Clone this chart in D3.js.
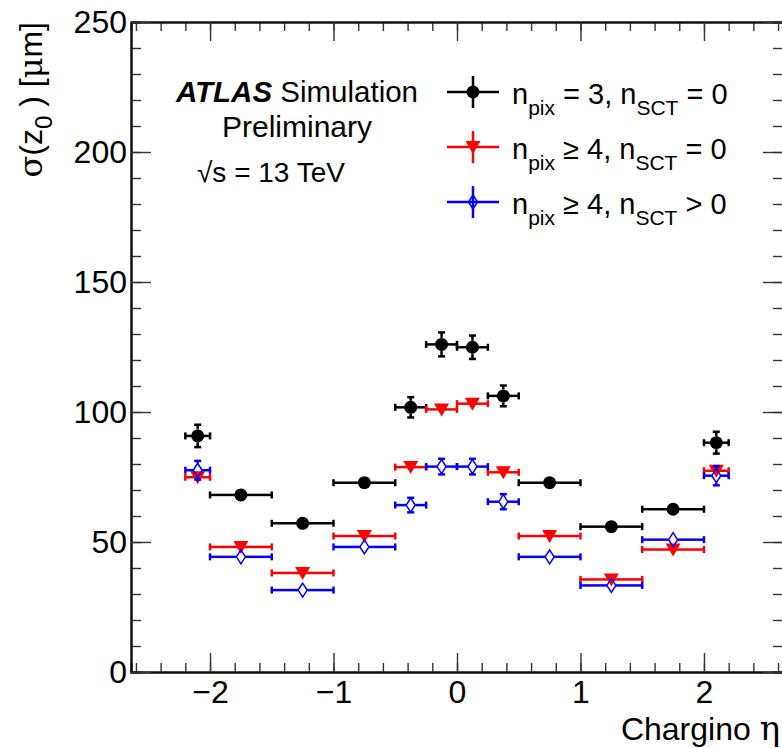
<!DOCTYPE html>
<html>
<head>
<meta charset="utf-8">
<script src="https://cdn.jsdelivr.net/npm/d3@7"></script>
<style>
  body { margin: 0; background: #fff; }
  svg { display: block; font-family: "Liberation Sans", Arial, Helvetica, sans-serif; }
  .greek { font-family: "DejaVu Serif", "Liberation Serif", serif; }
</style>
</head>
<body>
<div id="chart"></div>
<script>

// bins in chargino eta
var bin_lo = [-2.2, -2.0, -1.5, -1.0, -0.5, -0.25, 0.0, 0.25, 0.5, 1.0, 1.5, 2.0];
var bin_hi = [-2.0, -1.5, -1.0, -0.5, -0.25, 0.0, 0.25, 0.5, 1.0, 1.5, 2.0, 2.2];

// sigma(z0) in um
var pix3_sct0 = [90.8, 68.1, 57.2, 72.8, 101.8, 126.0, 124.9, 106.2, 72.8, 55.9, 62.6, 88.2];
var pix3_sct0_err = [4.3, 1.2, 1.0, 1.0, 3.9, 4.6, 4.5, 4.0, 1.0, 1.0, 1.2, 4.2];

var pix4_sct0 = [74.9, 48.1, 38.1, 52.3, 78.8, 101.0, 103.2, 76.8, 52.3, 35.6, 47.1, 77.4];
var pix4_sct0_err = [2.4, 1.0, 1.0, 1.0, 2.0, 2.5, 2.4, 2.2, 1.0, 1.0, 1.0, 2.4];

var pix4_sct1 = [77.6, 44.3, 31.5, 48.1, 64.2, 79.0, 79.0, 65.5, 44.3, 33.3, 50.9, 75.5];
var pix4_sct1_err = [3.6, 1.0, 1.0, 1.0, 2.8, 3.0, 3.0, 2.9, 1.0, 1.0, 1.0, 3.7];

var x_ticks = [-2, -1, 0, 1, 2];
var y_ticks = [0, 50, 100, 150, 200, 250];

var W = 782, H = 748;
var margin = {top: 22, left: 131};
var plot_w = 652, plot_h = 650;

var svg = d3.select("#chart").append("svg")
  .attr("width", W)
  .attr("height", H);

var x = d3.scaleLinear().domain([-2.64, 2.64]).range([margin.left, margin.left + plot_w]);
var y = d3.scaleLinear().domain([0, 250]).range([margin.top + plot_h, margin.top]);

var x_minor = d3.range(-26, 27, 2).map(function(d) { return d / 10; });
var y_minor = d3.range(0, 251, 10);

// axes - ROOT style, ticks pointing inwards on all four sides
function style_axis(g) {
  g.select(".domain").attr("stroke", "#111").attr("stroke-width", 2);
  g.selectAll(".tick line").attr("stroke", "#333").attr("stroke-width", 1.4);
  g.selectAll(".tick text").attr("fill", "#000").style("font-size", "32px");
}

var bottom = margin.top + plot_h, right = margin.left + plot_w;

svg.append("g").attr("transform", "translate(0," + bottom + ")")
  .call(d3.axisBottom(x).tickValues(x_minor).tickSize(-9).tickFormat(""))
  .call(style_axis);
svg.append("g").attr("transform", "translate(0," + bottom + ")")
  .call(d3.axisBottom(x).tickValues(x_ticks).tickSizeInner(-19).tickSizeOuter(0)
    .tickPadding(8).tickFormat(d3.format("d")))
  .call(style_axis);

svg.append("g").attr("transform", "translate(0," + margin.top + ")")
  .call(d3.axisTop(x).tickValues(x_minor).tickSize(-9).tickFormat(""))
  .call(style_axis);
svg.append("g").attr("transform", "translate(0," + margin.top + ")")
  .call(d3.axisTop(x).tickValues(x_ticks).tickSizeInner(-19).tickSizeOuter(0).tickFormat(""))
  .call(style_axis);

svg.append("g").attr("transform", "translate(" + margin.left + ",0)")
  .call(d3.axisLeft(y).tickValues(y_minor).tickSize(-10).tickFormat(""))
  .call(style_axis);
svg.append("g").attr("transform", "translate(" + margin.left + ",0)")
  .call(d3.axisLeft(y).tickValues(y_ticks).tickSizeInner(-20).tickSizeOuter(0).tickPadding(4))
  .call(style_axis);

svg.append("g").attr("transform", "translate(" + right + ",0)")
  .call(d3.axisRight(y).tickValues(y_minor).tickSize(-10).tickFormat(""))
  .call(style_axis);
svg.append("g").attr("transform", "translate(" + right + ",0)")
  .call(d3.axisRight(y).tickValues(y_ticks).tickSizeInner(-20).tickSizeOuter(0).tickFormat(""))
  .call(style_axis);

// axis titles
var xt = svg.append("text")
  .attr("x", 780).attr("y", 740)
  .attr("text-anchor", "end")
  .style("font-size", "32px");
xt.append("tspan").text("Chargino ");
xt.append("tspan").attr("class", "greek").style("font-size", "34px").text("η");

var yt = svg.append("text")
  .attr("transform", "translate(42,22) rotate(-90)")
  .attr("text-anchor", "end")
  .style("font-size", "32px");
yt.append("tspan").attr("class", "greek").text("σ");
yt.append("tspan").text("(z");
yt.append("tspan").attr("dy", 10).style("font-size", "24px").text("0");
yt.append("tspan").attr("dy", -10).text(" ) [");
yt.append("tspan").attr("class", "greek").text("μ");
yt.append("tspan").text("m]");

// markers
var markers = {
  circle: function(g, color) {
    g.append("circle").attr("r", 6.5).attr("fill", color);
  },
  tri_down: function(g, color) {
    g.append("path").attr("d", "M-7.5,-6L7.5,-6L0,7Z").attr("fill", color);
  },
  diamond: function(g, color) {
    g.append("path").attr("d", "M0,-7L4.5,0L0,7L-4.5,0Z")
      .attr("fill", "none").attr("stroke", color).attr("stroke-width", 1.5);
  }
};

var series = [
  {name: "pix3_sct0", values: pix3_sct0, errs: pix3_sct0_err, color: "#000000", marker: "circle", gx: 0, gy: 6.5},
  {name: "pix4_sct0", values: pix4_sct0, errs: pix4_sct0_err, color: "#ff0000", marker: "tri_down", gx: 0, gy: 6.5},
  {name: "pix4_sct1", values: pix4_sct1, errs: pix4_sct1_err, color: "#0000ff", marker: "diamond", gx: 4.5, gy: 7}
];

var cap = 3.5, lw = 2.5;

series.forEach(function(s) {

  var g = svg.append("g").attr("class", s.name);

  s.values.forEach(function(v, i) {

    var cx = x((bin_lo[i] + bin_hi[i]) / 2);
    var cy = y(v);
    var x0 = x(bin_lo[i]), x1 = x(bin_hi[i]);
    var y0 = y(v - s.errs[i]), y1 = y(v + s.errs[i]);

    var e = g.append("g").attr("stroke", s.color).attr("stroke-width", lw);

    //horizontal bar, with a gap where an open marker sits
    e.append("line").attr("x1", x0).attr("x2", cx - s.gx).attr("y1", cy).attr("y2", cy);
    e.append("line").attr("x1", cx + s.gx).attr("x2", x1).attr("y1", cy).attr("y2", cy);
    e.append("line").attr("x1", x0).attr("x2", x0).attr("y1", cy - cap).attr("y2", cy + cap);
    e.append("line").attr("x1", x1).attr("x2", x1).attr("y1", cy - cap).attr("y2", cy + cap);

    //vertical bar only if it sticks out of the marker
    if (cy - y1 > s.gy) {
      e.append("line").attr("x1", cx).attr("x2", cx).attr("y1", y1).attr("y2", cy - s.gy);
      e.append("line").attr("x1", cx).attr("x2", cx).attr("y1", cy + s.gy).attr("y2", y0);
      e.append("line").attr("x1", cx - cap).attr("x2", cx + cap).attr("y1", y1).attr("y2", y1);
      e.append("line").attr("x1", cx - cap).attr("x2", cx + cap).attr("y1", y0).attr("y2", y0);
    }

    var m = g.append("g").attr("transform", "translate(" + cx + "," + cy + ")");
    markers[s.marker](m, s.color);
  });
});

// ATLAS label
var atlas = svg.append("text")
  .attr("x", 297).attr("y", 102)
  .attr("text-anchor", "middle")
  .style("font-size", "29.5px");
atlas.append("tspan").style("font-weight", "bold").style("font-style", "italic").text("ATLAS");
atlas.append("tspan").text(" Simulation");

svg.append("text")
  .attr("x", 297).attr("y", 137)
  .attr("text-anchor", "middle")
  .style("font-size", "30px")
  .text("Preliminary");

svg.append("text")
  .attr("x", 197).attr("y", 182)
  .style("font-size", "28px")
  .text("√s = 13 TeV");

// legend
var legend_rows = [
  {parts: ["n", "pix", " = 3, n", "SCT", " = 0"], s: series[0]},
  {parts: ["n", "pix", " ≥ 4, n", "SCT", " = 0"], s: series[1]},
  {parts: ["n", "pix", " ≥ 4, n", "SCT", " > 0"], s: series[2]}
];

legend_rows.forEach(function(row, i) {

  var ly = 92 + i * 55;
  var lx = 473;
  var e = svg.append("g").attr("stroke", row.s.color).attr("stroke-width", lw);
  e.append("line").attr("x1", 447).attr("x2", 499).attr("y1", ly).attr("y2", ly);
  e.append("line").attr("x1", lx).attr("x2", lx).attr("y1", ly - 16).attr("y2", ly + 16);

  var m = svg.append("g").attr("transform", "translate(" + lx + "," + ly + ")");
  markers[row.s.marker](m, row.s.color);

  var t = svg.append("text")
    .attr("x", 512).attr("y", ly + 11.5)
    .style("font-size", "29px");
  t.append("tspan").text(row.parts[0]);
  t.append("tspan").attr("dy", 11).style("font-size", "21px").text(row.parts[1]);
  t.append("tspan").attr("dy", -11).text(row.parts[2]);
  t.append("tspan").attr("dy", 11).style("font-size", "21px").text(row.parts[3]);
  t.append("tspan").attr("dy", -11).text(row.parts[4]);
});

</script>
</body>
</html>
